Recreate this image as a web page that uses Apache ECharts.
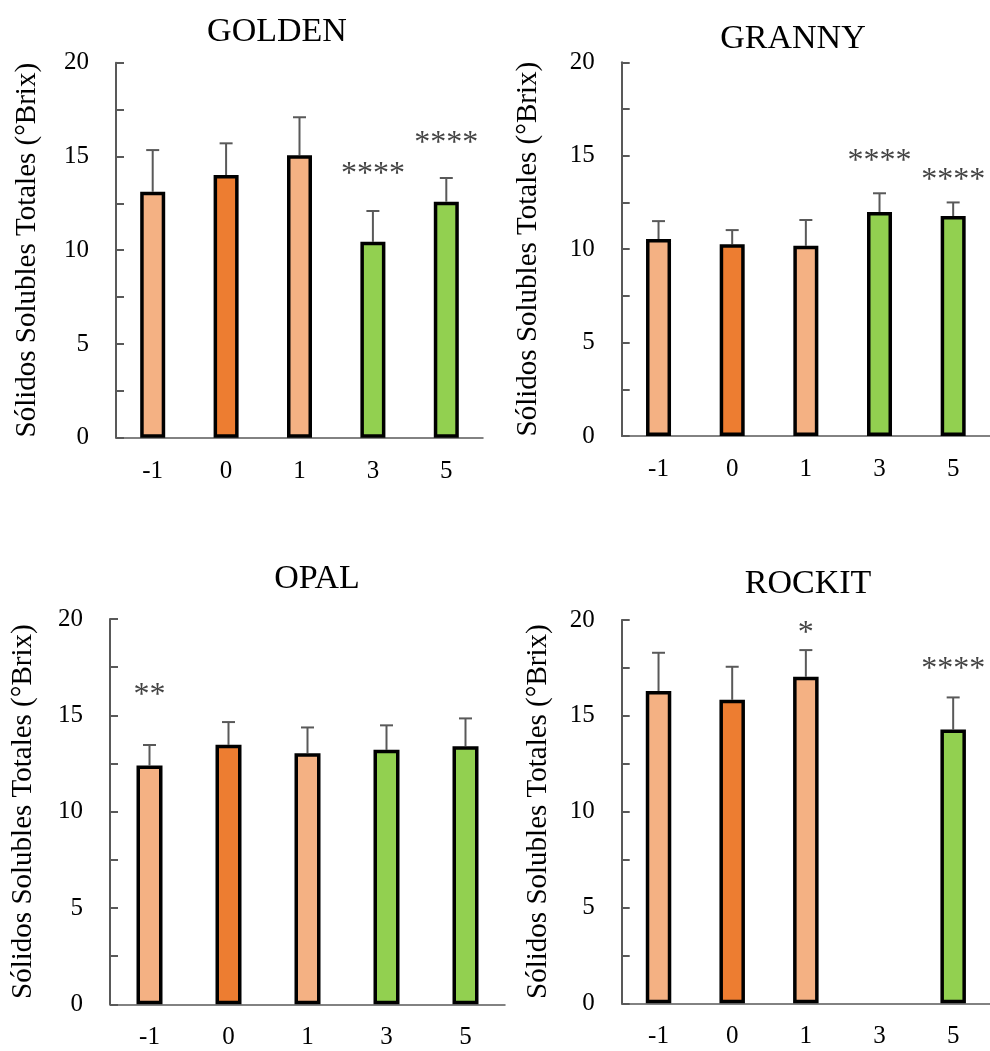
<!DOCTYPE html>
<html>
<head>
<meta charset="utf-8">
<script src="https://cdn.jsdelivr.net/npm/echarts@6/dist/echarts.min.js"></script>
<style>html,body{margin:0;padding:0;background:#fff}#c{width:990px;height:1051px}</style>
</head>
<body>
<div id="c"></div>
<script>
// ---- data ----
const categories = ['-1', '0', '1', '3', '5'];
const panelTitles = ['GOLDEN', 'GRANNY', 'OPAL', 'ROCKIT'];
const yAxisName = 'Sólidos Solubles Totales (°Brix)';

const goldenMeans = [13.12, 14.01, 15.06, 10.45, 12.59];
const goldenErrors = [2.22, 1.69, 2.03, 1.64, 1.26];
const goldenStars = ['', '', '', '****', '****'];
const goldenStarPos = [null, null, null, 14.3, 15.95];

const grannyMeans = [10.54, 10.26, 10.18, 11.99, 11.77];
const grannyErrors = [0.96, 0.76, 1.38, 1.00, 0.73];
const grannyStars = ['', '', '', '****', '****'];
const grannyStarPos = [null, null, null, 14.98, 13.91];

const opalMeans = [12.40, 13.47, 13.03, 13.21, 13.40];
const opalErrors = [1.06, 1.18, 1.34, 1.27, 1.44];
const opalStars = ['**', '', '', '', ''];
const opalStarPos = [16.3, null, null, null, null];

const rockitMeans = [16.29, 15.84, 17.04, null, 14.29];
const rockitErrors = [2.00, 1.72, 1.39, null, 1.67];
const rockitStars = ['', '', '*', '', '****'];
const rockitStarPos = [null, null, 19.56, null, 17.65];

const barColors = ['#F4B183', '#ED7D31', '#F4B183', '#92D050', '#92D050'];

const yMin = 0, yMax = 20, yStep = 2.5, yLabelStep = 5;

// ---- layout (pixels) ----
const panels = [
  {means: goldenMeans, errs: goldenErrors, stars: goldenStars, starPos: goldenStarPos,
   grid: {left: 116, top: 62.7, width: 367, height: 375}, barW: 25, nameGap: 74, titleX: 277, titleY: 32},
  {means: grannyMeans, errs: grannyErrors, stars: grannyStars, starPos: grannyStarPos,
   grid: {left: 621.7, top: 62.3, width: 370, height: 373.7}, barW: 25, nameGap: 79, titleX: 793, titleY: 39.5},
  {means: opalMeans, errs: opalErrors, stars: opalStars, starPos: opalStarPos,
   grid: {left: 110, top: 619, width: 395, height: 385.3}, barW: 26, nameGap: 72, titleX: 317, titleY: 579.5},
  {means: rockitMeans, errs: rockitErrors, stars: rockitStars, starPos: rockitStarPos,
   grid: {left: 621.7, top: 620, width: 377.5, height: 383.3}, barW: 25.5, nameGap: 69, titleX: 808, titleY: 584.5}
];

const FONT = '"Liberation Serif", "Times New Roman", serif';
const AXIS_COLOR = '#595959';
const STAR_PITCH = 16;

const grids = [], xAxes = [], yAxes = [], series = [], graphics = [];

panels.forEach((p, k) => {
  grids.push(Object.assign({containLabel: false}, p.grid));
  xAxes.push({
    type: 'category', gridIndex: k, data: categories,
    axisLine: {lineStyle: {color: AXIS_COLOR, width: 1.5}},
    axisTick: {show: false},
    axisLabel: {fontFamily: FONT, fontSize: 25, color: '#000', margin: 21},
    splitLine: {show: false}
  });
  yAxes.push({
    type: 'value', gridIndex: k, min: yMin, max: yMax, interval: yStep,
    name: yAxisName, nameLocation: 'middle', nameRotate: 90, nameGap: p.nameGap,
    nameTextStyle: {fontFamily: FONT, fontSize: 29, color: '#000'},
    axisLine: {show: true, lineStyle: {color: AXIS_COLOR, width: 2}},
    axisTick: {show: true, inside: true, length: 8, lineStyle: {color: AXIS_COLOR, width: 2}},
    axisLabel: {fontFamily: FONT, fontSize: 25, color: '#000', margin: 27,
      formatter: v => (v % yLabelStep === 0 ? String(v) : '')},
    splitLine: {show: false}
  });
  series.push({
    type: 'custom', xAxisIndex: k, yAxisIndex: k, z: 1,
    data: p.means.map((m, i) => [i, m, p.errs[i]]),
    renderItem: (params, api) => {
      const i = api.value(0), m = api.value(1), e = api.value(2);
      if (isNaN(m) || isNaN(e)) return null;
      const a = api.coord([i, m]), b = api.coord([i, m + e]);
      const cap = 6.5;
      return {type: 'group', children: [
        {type: 'line', shape: {x1: a[0], y1: a[1], x2: b[0], y2: b[1]}, style: {stroke: AXIS_COLOR, lineWidth: 2}},
        {type: 'line', shape: {x1: b[0] - cap, y1: b[1], x2: b[0] + cap, y2: b[1]}, style: {stroke: AXIS_COLOR, lineWidth: 2}}
      ]};
    }
  });
  series.push({
    type: 'bar', xAxisIndex: k, yAxisIndex: k, z: 2, barWidth: p.barW,
    data: p.means.map((m, i) => ({value: m, itemStyle: {color: barColors[i]}})),
    itemStyle: {borderColor: '#000', borderWidth: 3.5}
  });
  series.push({
    type: 'custom', xAxisIndex: k, yAxisIndex: k, z: 3,
    data: p.starPos.map((v, i) => [i, v]),
    renderItem: (params, api) => {
      const i = api.value(0), v = api.value(1);
      const txt = p.stars[params.dataIndex];
      if (isNaN(v) || !txt) return null;
      const c = api.coord([i, v]);
      const n = txt.length;
      const children = [];
      for (let j = 0; j < n; j++) {
        children.push({type: 'text', x: c[0] + (j - (n - 1) / 2) * STAR_PITCH, y: c[1] + 5,
          style: {text: txt[j], fontFamily: FONT, fontSize: 32, fill: '#444', align: 'center', verticalAlign: 'middle'}});
      }
      return {type: 'group', children};
    }
  });
  graphics.push({
    type: 'text', x: p.titleX, y: p.titleY,
    style: {text: panelTitles[k], fontFamily: FONT, fontSize: 34, fill: '#000', align: 'center', verticalAlign: 'middle'}
  });
});

const chart = echarts.init(document.getElementById('c'), null, {renderer: 'canvas'});
chart.setOption({
  animation: false,
  backgroundColor: '#fff',
  grid: grids, xAxis: xAxes, yAxis: yAxes, series: series, graphic: graphics
});
</script>
</body>
</html>
